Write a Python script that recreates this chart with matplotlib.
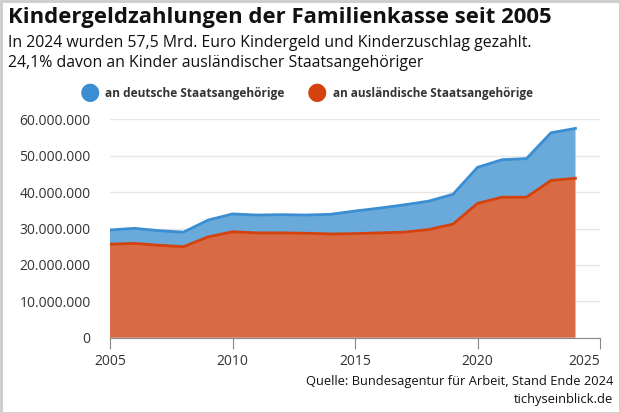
import matplotlib
matplotlib.use("Agg")
import matplotlib.pyplot as plt
from matplotlib.patches import Rectangle
from matplotlib.ticker import FuncFormatter

plt.rcParams['font.family'] = ['Open Sans', 'DejaVu Sans']

# Werte (Mio. Euro)
years = list(range(2005, 2025))
auslaendisch = [25.7, 25.9, 25.4, 25.0, 27.7, 29.1, 28.8, 28.8, 28.7, 28.5,
                28.6, 28.8, 29.0, 29.7, 31.2, 36.9, 38.6, 38.6, 43.2, 43.8]
gesamt = [29.6, 30.05, 29.4, 29.0, 32.3, 34.0, 33.7, 33.8, 33.7, 33.9,
          34.8, 35.6, 36.5, 37.5, 39.4, 46.8, 48.9, 49.2, 56.3, 57.5]
deutsch = [g - a for g, a in zip(gesamt, auslaendisch)]
auslaendisch = [v * 1e6 for v in auslaendisch]
deutsch = [v * 1e6 for v in deutsch]

blue_line = '#3a8ed1'
blue_fill = '#6aaadb'
red_line = '#d4420e'
red_fill = '#d86b45'

fig = plt.figure(figsize=(6.2, 4.13), dpi=100)
ax = fig.add_axes([110 / 620, 75.3 / 413, 490 / 620, 218.4 / 413])

# gestapelte Flächen
ax.stackplot(years, auslaendisch, deutsch, colors=[red_fill, blue_fill], linewidth=0)
top = [a + d for a, d in zip(auslaendisch, deutsch)]
ax.plot(years, top, color=blue_line, lw=2)
ax.plot(years, auslaendisch, color=red_line, lw=2)

ax.set_xlim(2005, 2025)
ax.set_ylim(0, 60e6)
ax.set_yticks(range(0, 60000001, 10000000))
ax.yaxis.set_major_formatter(FuncFormatter(lambda v, p: f'{v:,.0f}'.replace(',', '.')))
ax.set_xticks([2005, 2010, 2015, 2020, 2025])
ax.grid(axis='y', color='#e6e6e6', lw=1)
ax.set_axisbelow(True)
for s in ['top', 'right', 'left']:
    ax.spines[s].set_visible(False)
ax.spines['bottom'].set_color('#888888')
ax.tick_params(axis='y', length=0, labelsize=10, labelcolor='#333333', pad=14)
ax.tick_params(axis='x', length=8, color='#888888', labelsize=10, labelcolor='#333333', pad=4)
ax.get_xticklabels()[-1].set_horizontalalignment('right')

# Titel
fig.text(8 / 620, 1 - 18 / 413, 'Kindergeldzahlungen der Familienkasse seit 2005',
         fontsize=15.9, fontweight='bold', color='#111111', va='center')
fig.text(8 / 620, 1 - 43 / 413,
         'In 2024 wurden 57,5 Mrd. Euro Kindergeld und Kinderzuschlag gezahlt.',
         fontsize=11.4, color='#111111', va='center')
fig.text(8 / 620, 1 - 63 / 413, '24,1% davon an Kinder ausländischer Staatsangehöriger',
         fontsize=11.4, color='#111111', va='center')

# Legende
fig.text(90 / 620, 1 - 93 / 413, '●', fontsize=17, color=blue_line, ha='center', va='center')
fig.text(105 / 620, 1 - 93 / 413, 'an deutsche Staatsangehörige',
         fontsize=8.6, fontweight='bold', color='#333333', va='center')
fig.text(317 / 620, 1 - 93 / 413, '●', fontsize=17, color=red_line, ha='center', va='center')
fig.text(333 / 620, 1 - 93 / 413, 'an ausländische Staatsangehörige',
         fontsize=8.5, fontweight='bold', color='#333333', va='center')

# Quelle
fig.text(613 / 620, 1 - 381 / 413, 'Quelle: Bundesagentur für Arbeit, Stand Ende 2024',
         fontsize=9.3, color='#111111', ha='right', va='center')
fig.text(613 / 620, 1 - 399 / 413, 'tichyseinblick.de',
         fontsize=9.3, color='#111111', ha='right', va='center')

# Rahmen
fig.patches.append(Rectangle((0.5 / 620, 0.5 / 413), 619 / 620, 412 / 413,
                             transform=fig.transFigure, fill=False,
                             edgecolor='#cccccc', lw=2))

fig.savefig('out.png', dpi=100)
